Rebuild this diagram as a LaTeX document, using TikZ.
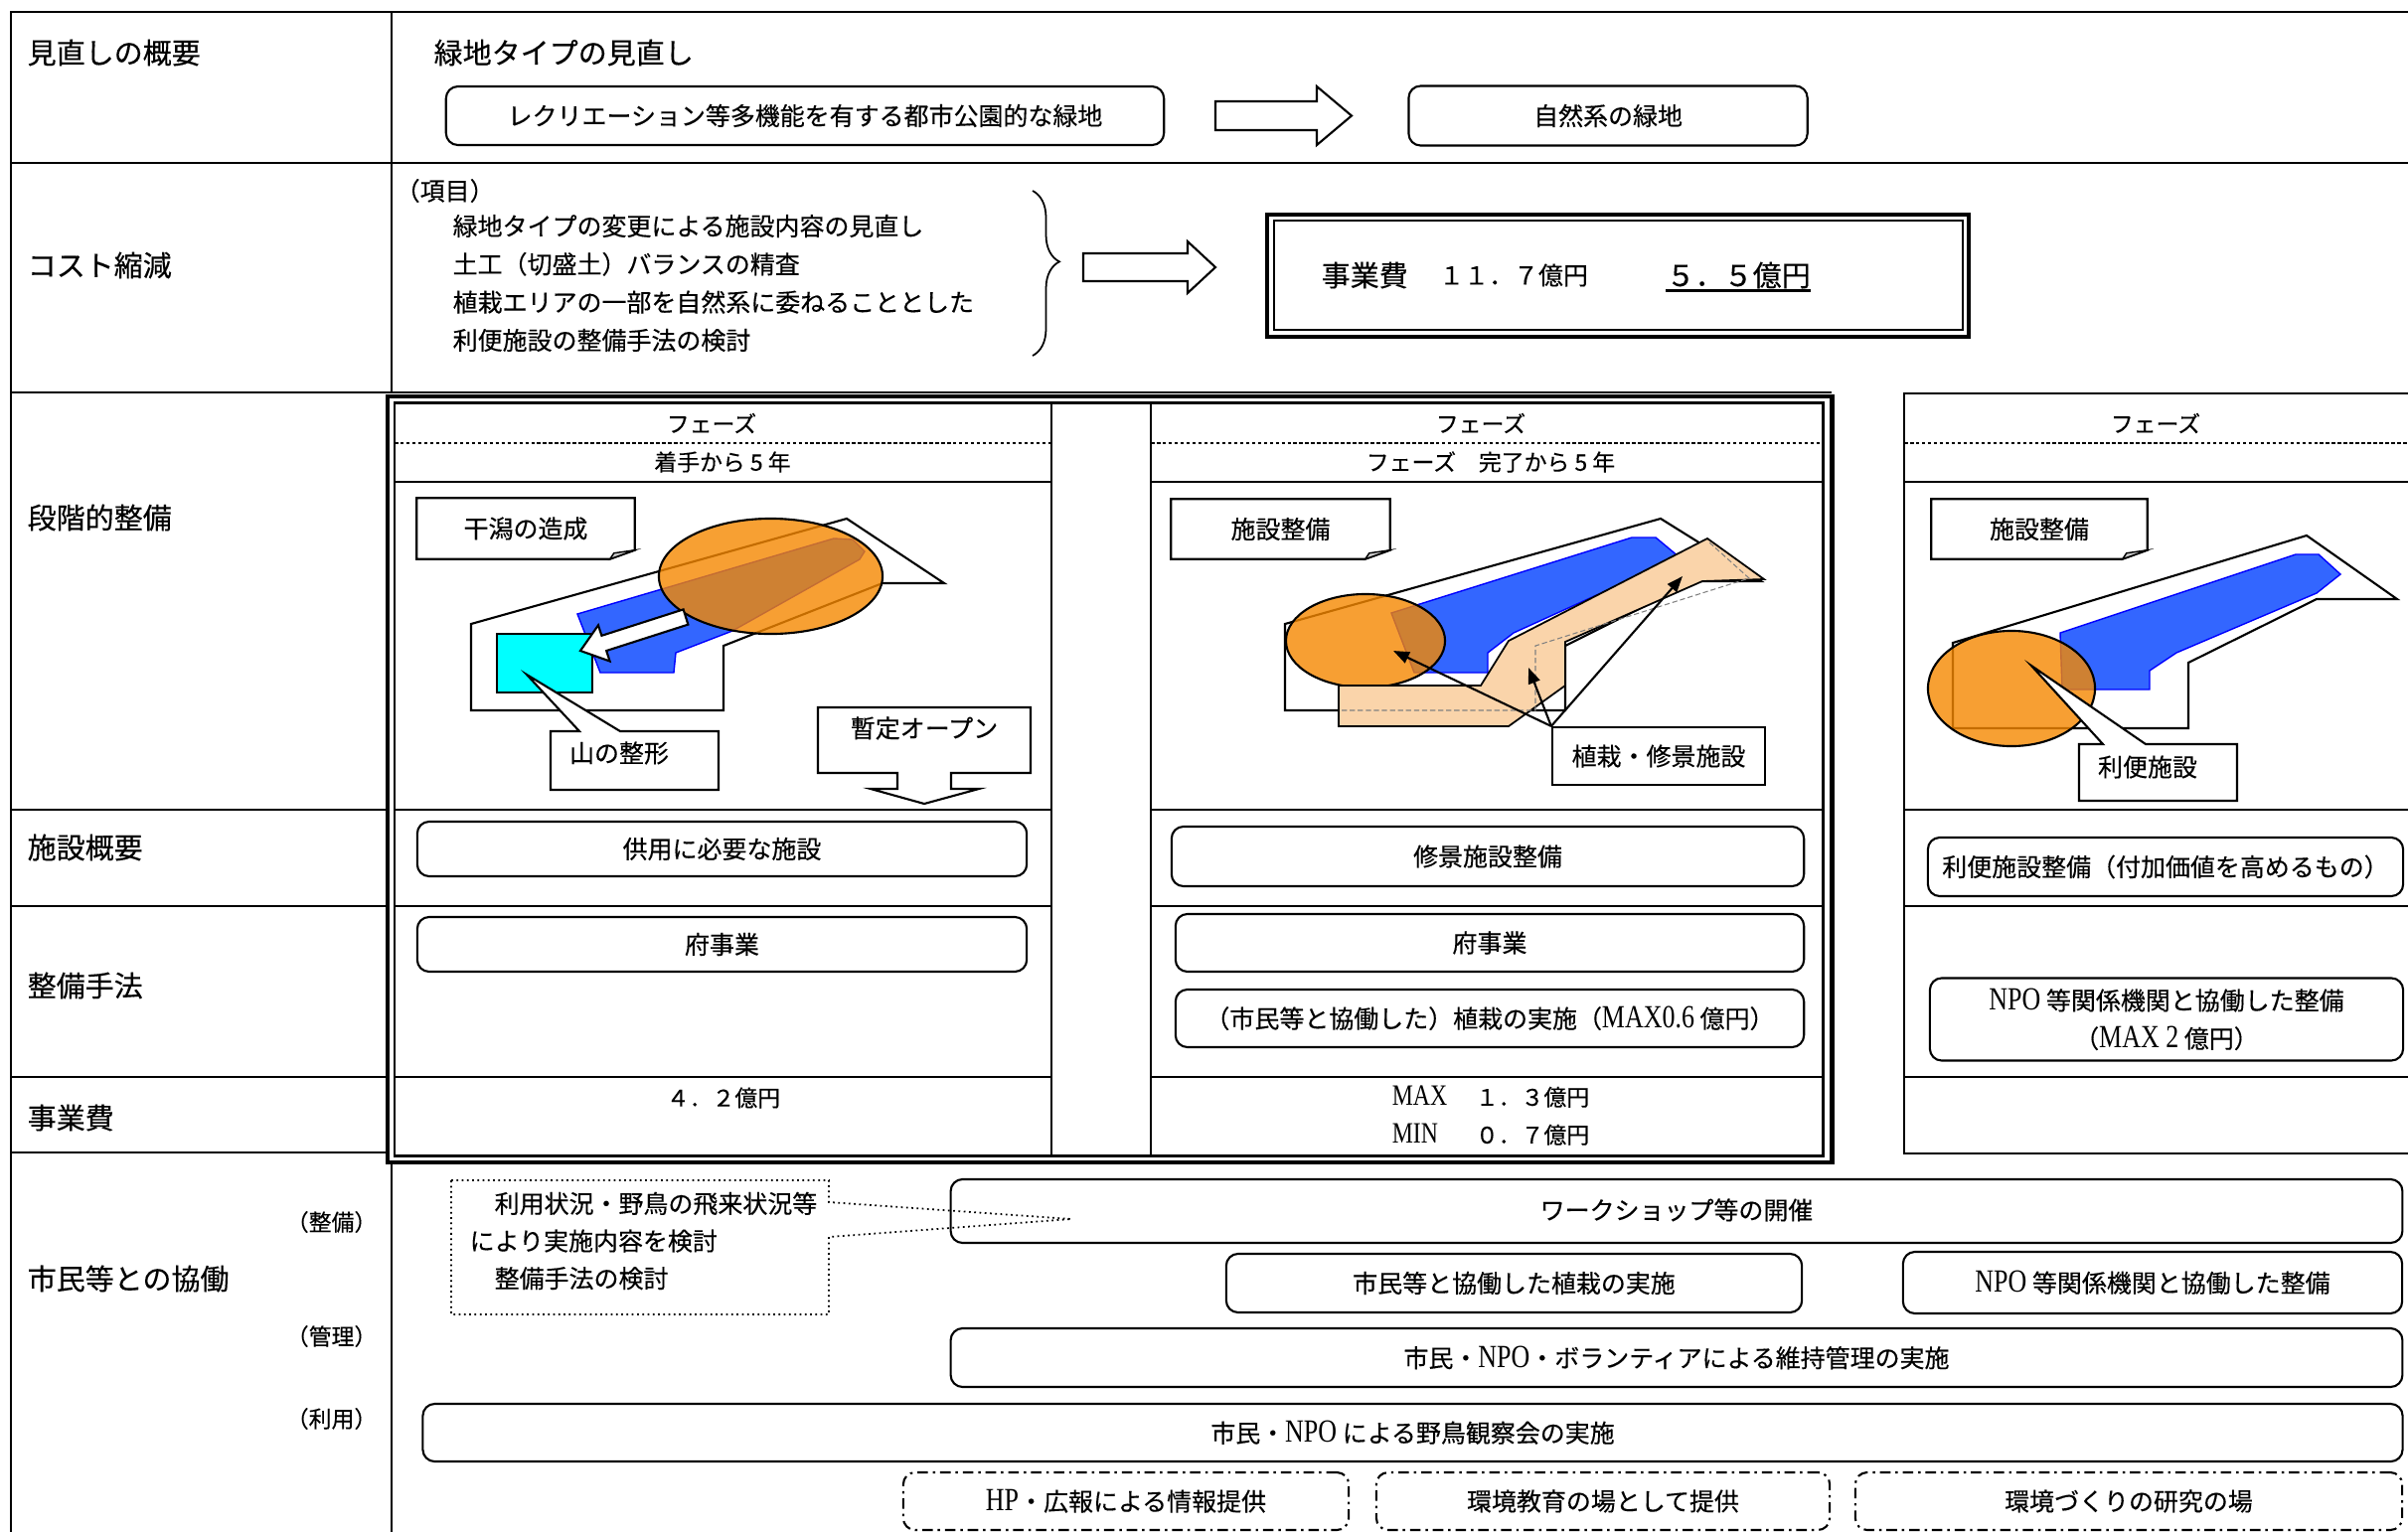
\documentclass[tikz,border=0pt]{standalone}
\usepackage{fontspec}
\usepackage{graphicx}
\setmainfont{Noto Sans CJK JP}[FakeBold=0.3]
\newfontfamily\romfont{Liberation Serif}[Scale=1.3]
\usepackage{tikz}
\usetikzlibrary{positioning,calc,arrows.meta,decorations.pathreplacing}

\definecolor{mapblue}{RGB}{51,102,255}
\definecolor{maporange}{RGB}{245,136,0}
\definecolor{mapcyan}{RGB}{0,255,255}
\definecolor{maptan}{RGB}{250,212,170}

\newcommand{\bigf}{\fontsize{8.25pt}{10pt}\selectfont}
\newcommand{\midf}{\fontsize{7.1pt}{10.9pt}\selectfont}
\newcommand{\smallf}{\fontsize{6.5pt}{10.8pt}\selectfont}
% narrow roman letters inside the Japanese text
\newcommand{\rom}[1]{{\romfont\scalebox{0.8}[1]{#1}}}
% folded corner box drawn round a text node
\newcommand{\dogear}[1]{%
  \draw[line width=0.6pt] (#1.north west) -- (#1.north east) -- ([yshift=0.09cm]#1.south east)
    -- ([xshift=-0.25cm]#1.south east) -- (#1.south west) -- cycle;
  \filldraw[line width=0.4pt, fill=gray!40] ([yshift=0.09cm]#1.south east)
    -- ([xshift=-0.21cm,yshift=0.06cm]#1.south east) -- ([xshift=-0.25cm]#1.south east) -- cycle;}

\begin{document}
\begin{tikzpicture}[x=0.01cm, y=-0.01cm,
    tline/.style={line width=0.7pt},
    cline/.style={line width=0.5pt},
    rbox/.style={draw, rounded corners=0.12cm, line width=0.6pt, fill=white, inner sep=0pt, font=\midf},
    dbox/.style={draw, rounded corners=0.12cm, line width=0.6pt, dash pattern=on 3pt off 1.4pt on 0.7pt off 1.4pt, inner sep=0pt, font=\midf},
    lbl/.style={anchor=west, inner sep=0pt, font=\bigf},
    txt/.style={inner sep=0pt, font=\midf},
    site/.style={draw, fill=white, line width=0.6pt},
    water/.style={fill=mapblue, draw=blue, line width=0.4pt},
    area/.style={fill=maporange, fill opacity=0.8, draw, line width=0.6pt},
    walk/.style={fill=maptan, draw, line width=0.5pt},
    callout/.style={draw, fill=white, line width=0.6pt},
    pointer/.style={-{Triangle[length=0.16cm, width=0.12cm]}, line width=0.6pt}]
\useasboundingbox (0,0) rectangle (2423,1542);

% table frame
\draw[tline] (2423,12) -- (11,12) -- (11,1542);
\draw[tline] (394,12) -- (394,395);
\draw[tline] (394,1170) -- (394,1542);
\draw[tline] (11,164) -- (2423,164);
\draw[tline] (11,395) -- (1843,395);
\foreach \y in {815,912,1084,1160}
  \draw[tline] (11,\y) -- (390,\y);

% stage frames
\draw[line width=1.2pt] (390,399) rectangle (1843.5,1170);
\draw[line width=0.6pt] (397,405.5) rectangle (1834.5,1163.5);
\draw[cline] (1058,405.5) -- (1058,1163.5) (1158,405.5) -- (1158,1163.5);
\draw[line width=0.6pt] (2423,396) -- (1916,396) -- (1916,1161) -- (2423,1161);
\foreach \a/\b in {397/1058, 1158/1834.5, 1916/2423} {
  \draw[cline, dash pattern=on 1pt off 0.7pt] (\a,446) -- (\b,446);
  \foreach \y in {485,815,912,1084}
    \draw[cline] (\a,\y) -- (\b,\y);
}

% row titles
\node[lbl] (gaiyo) at (27,53) {見直しの概要};
\node[lbl] (cost) at (27,267) {コスト縮減};
\node[lbl] (dankai) at (27,521) {段階的整備};
\node[lbl] (shisetsu) at (27,853) {施設概要};
\node[lbl] (shuho) at (27,992) {整備手法};
\node[lbl] (hiyou) at (27,1125) {事業費};
\node[lbl] (kyodo) at (27,1287) {市民等との協働};
\node[txt, anchor=east, font=\smallf] (r1) at (380,1230) {（整備）};
\node[txt, anchor=east, font=\smallf] (r2) at (380,1345) {（管理）};
\node[txt, anchor=east, font=\smallf] (r3) at (380,1428) {（利用）};

% green type review
\node[lbl] (midori) at (436,53) {緑地タイプの見直し};
\node[rbox, minimum width=7.22cm, minimum height=0.59cm] (recre) at (810,116.5) {レクリエーション等多機能を有する都市公園的な緑地};
\node[rbox, minimum width=4.01cm, minimum height=0.60cm, right=2.44cm of recre] (nature) {自然系の緑地};
\draw[line width=0.6pt, fill=white] (1223,102) -- (1325,102) -- (1325,87) -- (1360,116.5) -- (1325,146) -- (1325,131) -- (1223,131) -- cycle;

% cost reduction
\node[txt, anchor=west] (koumoku) at (397,192) {（項目）};
\node[txt, anchor=west, align=left] (items) at (455,285) {緑地タイプの変更による施設内容の見直し\\土工（切盛土）バランスの精査\\植栽エリアの一部を自然系に委ねることとした\\利便施設の整備手法の検討};
\draw[line width=0.5pt, decorate, decoration={brace, amplitude=0.27cm, aspect=0.43}] (1039,192) -- (1039,358);
\draw[line width=0.6pt, fill=white] (1090,255) -- (1195,255) -- (1195,243) -- (1223,269) -- (1195,295) -- (1195,283) -- (1090,283) -- cycle;
\node[draw, line width=0.5pt, minimum width=6.93cm, minimum height=1.10cm, inner sep=0pt] (kosuto) at (1628.5,277) {};
\draw[line width=1.2pt] ([shift={(-6,6)}]kosuto.south west) rectangle ([shift={(5,-5)}]kosuto.north east);
\node[txt, anchor=west, font=\bigf] (jigyohi) at (1329,277) {事業費};
\node[txt, right=0.30cm of jigyohi] (before) {１１．７億円};
\node[txt, anchor=west, font=\bigf] (after) at (1676,277) {５．５億円};
\draw[line width=0.8pt] ([yshift=-1.2pt]after.base west) -- ([yshift=-1.2pt]after.base east);

% phase headers
\node[txt, font=\smallf] (f1) at (716,426) {フェーズ};
\node[txt, font=\smallf] (f1b) at (727,465) {着手から 5 年};
\node[txt, font=\smallf] (f2) at (1490,426) {フェーズ};
\node[txt, font=\smallf] (f2b) at (1500,465) {フェーズ　完了から 5 年};
\node[txt, font=\smallf] (f3) at (2169,426) {フェーズ};

% phase 1 map
\draw[site] (474,715) -- (474,628) -- (852,522) -- (950,587) -- (888,587) -- (728,650) -- (728,715) -- cycle;
\path[water] (581,618) -- (839,542) -- (858,543) -- (870,555) -- (865,563) -- (737,635) -- (680,657) -- (678,677) -- (604,677) -- cycle;
\draw[line width=0.6pt, fill=mapcyan] (500,638) rectangle (596,697);
\path[area] (775.5,580) ellipse [x radius=1.125cm, y radius=0.58cm];
\draw[line width=0.6pt, fill=white] (687.6,613.4) -- (605.4,639.8) -- (602,629.3) -- (584,655) -- (613.6,665.5) -- (610.2,655) -- (692.4,628.6) -- cycle;
\node[txt, minimum width=2.18cm, minimum height=0.60cm] (higata) at (529,532) {干潟の造成};
\dogear{higata}
\draw[callout] (554,736) -- (583,736) -- (530,679) -- (624,736) -- (723,736) -- (723,795) -- (554,795) -- cycle;
\node[txt] (yama) at (623,758) {山の整形};
\draw[callout] (823,712) -- (1037,712) -- (1037,778) -- (957,778) -- (957,794) -- (985,794) -- (930,809) -- (876,794) -- (903,794) -- (903,778) -- (823,778) -- cycle;
\node[txt] (zantei) at (930,733) {暫定オープン};

% phase 2 map
\draw[site] (1293,715) -- (1293,628) -- (1671,522) -- (1772,585) -- (1705,585) -- (1575,650) -- (1575,715) -- cycle;
\path[water] (1400,617) -- (1642,541) -- (1666,541) -- (1690,561) -- (1523,637) -- (1497,657) -- (1497,677) -- (1423,677) -- cycle;
\path[area] (1374,645) ellipse [x radius=0.80cm, y radius=0.47cm];
\draw[walk] (1347,690) -- (1490,690) -- (1518,645) -- (1718,542) -- (1775,583) -- (1713,585) -- (1575,646) -- (1575,690) -- (1518,731) -- (1347,731) -- cycle;
\draw[gray, line width=0.3pt, dash pattern=on 1.5pt off 0.8pt] (1350,715) -- (1545,715) -- (1545,650) -- (1760,582) -- (1720,546);
\node[txt, minimum width=2.19cm, minimum height=0.59cm] (seibi2) at (1288.5,532.5) {施設整備};
\dogear{seibi2}
\node[callout, inner sep=0pt, font=\midf, minimum width=2.14cm, minimum height=0.58cm] (shukeitag) at (1669,761) {植栽・修景施設};
\coordinate (p2a) at (1402,655);
\coordinate (p2b) at (1538,672);
\coordinate (p2c) at (1693,580);
\draw[pointer] (shukeitag.north west) -- (p2a);
\draw[pointer] (shukeitag.north west) -- (p2b);
\draw[pointer] (shukeitag.north west) -- (p2c);

% phase 3 map
\draw[site] (1965,733) -- (1965,647) -- (2321,539) -- (2412,603) -- (2331,603) -- (2202,667) -- (2202,733) -- cycle;
\path[water] (2073,637) -- (2310,558) -- (2333,558) -- (2355,578) -- (2331,597) -- (2190,657) -- (2163,675) -- (2163,694) -- (2075,694) -- cycle;
\path[area] (2024,693) ellipse [x radius=0.84cm, y radius=0.58cm];
\node[txt, minimum width=2.16cm, minimum height=0.59cm] (seibi3) at (2052,532.5) {施設整備};
\dogear{seibi3}
\draw[callout] (2092,749) -- (2116,749) -- (2044,670) -- (2159,749) -- (2251,749) -- (2251,806) -- (2092,806) -- cycle;
\node[txt] (benri) at (2161,772) {利便施設};

% facilities and methods
\node[rbox, minimum width=6.13cm, minimum height=0.55cm] (kyoyo) at (726.5,854.5) {供用に必要な施設};
\node[rbox, minimum width=6.13cm, minimum height=0.55cm] (fu1) at (726.5,950.5) {府事業};
\node[rbox, minimum width=6.36cm, minimum height=0.60cm] (shukei) at (1497,862) {修景施設整備};
\node[rbox, minimum width=6.32cm, minimum height=0.58cm] (fu2) at (1499,949) {府事業};
\node[rbox, minimum width=6.32cm, minimum height=0.58cm] (shokusai) at (1499,1025) {（市民等と協働した）植栽の実施（\rom{MAX0.6} 億円）};
\node[rbox, minimum width=4.78cm, minimum height=0.59cm] (riben) at (2179,872.5) {利便施設整備（付加価値を高めるもの）};
\node[rbox, align=center, minimum width=4.76cm, minimum height=0.83cm] (npo1) at (2180,1026) {\rom{NPO} 等関係機関と協働した整備\\（\rom{MAX 2} 億円）};

% costs
\node[txt, font=\smallf] (cost1) at (728,1105) {４．２億円};
\node[txt, font=\smallf, align=left] (cost2) at (1500,1123) {\makebox[0.84cm][l]{\rom{MAX}}１．３億円\\\makebox[0.84cm][l]{\rom{MIN}}０．７億円};

% cooperation with citizens
\node[rbox, minimum width=14.60cm, minimum height=0.64cm] (ws) at (1687,1219) {\raisebox{1.2pt}{ワークショップ等の開催}};
\draw[densely dotted, line width=0.5pt] (454,1188) -- (834,1188) -- (834,1210) -- (1078,1227) -- (834,1245) -- (834,1323) -- (454,1323) -- cycle;
\node[txt, anchor=west, align=left, font=\fontsize{7.1pt}{10.7pt}\selectfont] (kento) at (472,1249) {　利用状況・野鳥の飛来状況等\\により実施内容を検討\\　整備手法の検討};
\node[rbox, minimum width=5.79cm, minimum height=0.59cm] (kyodo1) at (1523.5,1291.5) {市民等と協働した植栽の実施};
\node[rbox, minimum width=5.02cm, minimum height=0.62cm] (npo2) at (2166,1291) {\rom{NPO} 等関係機関と協働した整備};
\node[rbox, minimum width=14.60cm, minimum height=0.59cm] (iji) at (1687,1366.5) {市民・\rom{NPO}・ボランティアによる維持管理の実施};
\node[rbox, minimum width=19.91cm, minimum height=0.58cm] (kansatsu) at (1421.5,1442) {市民・\rom{NPO} による野鳥観察会の実施};
\node[dbox, minimum width=4.48cm, minimum height=0.58cm] (hp) at (1133,1511) {\rom{HP}・広報による情報提供};
\node[dbox, minimum width=4.56cm, minimum height=0.58cm] (kyoiku) at (1613,1511) {環境教育の場として提供};
\node[dbox, minimum width=5.50cm, minimum height=0.58cm] (kenkyu) at (2142,1511) {環境づくりの研究の場};
\end{tikzpicture}
\end{document}
